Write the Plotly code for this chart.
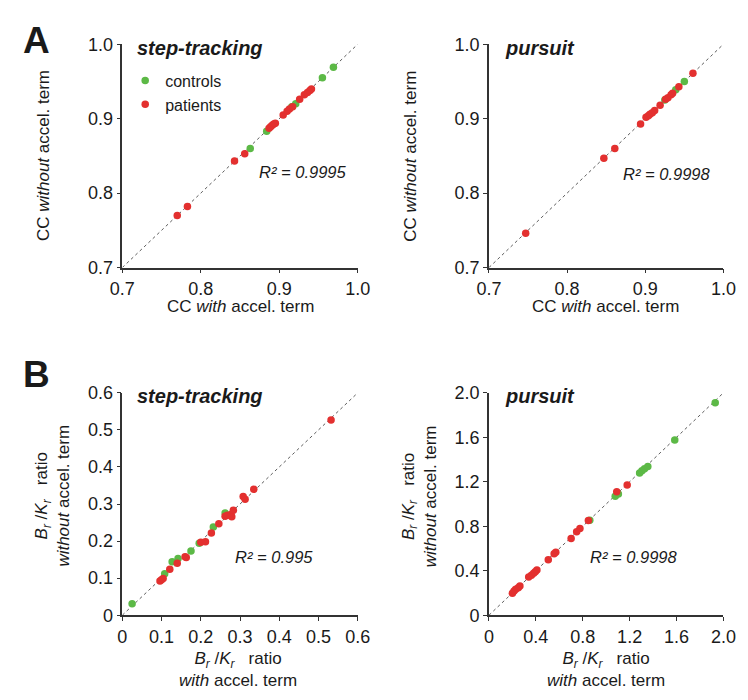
import plotly.graph_objects as go

# Panel A, step-tracking: CC with / without accel. term
a_step_ctrl_x = [0.969, 0.955, 0.921, 0.916, 0.884, 0.863]
a_step_ctrl_y = [0.969, 0.955, 0.920, 0.916, 0.883, 0.860]
a_step_pat_x = [0.770, 0.783, 0.843, 0.856, 0.887, 0.889, 0.891, 0.893, 0.895, 0.905,
                0.910, 0.913, 0.917, 0.926, 0.932, 0.936, 0.939, 0.941]
a_step_pat_y = [0.770, 0.782, 0.843, 0.853, 0.887, 0.889, 0.891, 0.893, 0.894, 0.905,
                0.910, 0.913, 0.916, 0.926, 0.932, 0.935, 0.938, 0.940]

# Panel A, pursuit
a_purs_ctrl_x = [0.950, 0.939, 0.925]
a_purs_ctrl_y = [0.950, 0.939, 0.925]
a_purs_pat_x = [0.747, 0.847, 0.861, 0.894, 0.901, 0.904, 0.906, 0.909, 0.912, 0.919,
                0.926, 0.929, 0.933, 0.935, 0.943, 0.961]
a_purs_pat_y = [0.746, 0.847, 0.860, 0.893, 0.902, 0.904, 0.906, 0.908, 0.911, 0.918,
                0.926, 0.928, 0.932, 0.934, 0.943, 0.961]

# Panel B, step-tracking: Br/Kr ratio
b_step_ctrl_x = [0.025, 0.108, 0.127, 0.142, 0.175, 0.196, 0.232, 0.262]
b_step_ctrl_y = [0.031, 0.112, 0.144, 0.153, 0.173, 0.194, 0.238, 0.276]
b_step_pat_x = [0.096, 0.100, 0.104, 0.121, 0.140, 0.160, 0.163, 0.200, 0.212, 0.227,
                0.246, 0.262, 0.268, 0.277, 0.279, 0.283, 0.308, 0.313, 0.335, 0.532]
b_step_pat_y = [0.092, 0.096, 0.099, 0.124, 0.140, 0.158, 0.156, 0.197, 0.198, 0.222,
                0.247, 0.267, 0.270, 0.272, 0.266, 0.283, 0.320, 0.313, 0.340, 0.527]

# Panel B, pursuit
b_purs_ctrl_x = [1.930, 1.585, 1.285, 1.305, 1.327, 1.355, 1.077, 1.104, 0.860]
b_purs_ctrl_y = [1.910, 1.576, 1.279, 1.299, 1.317, 1.337, 1.070, 1.090, 0.855]
b_purs_pat_x = [1.179, 1.090, 0.848, 0.776, 0.748, 0.701, 0.570, 0.556, 0.506, 0.409,
                0.395, 0.381, 0.362, 0.339, 0.264, 0.250, 0.228, 0.214, 0.200]
b_purs_pat_y = [1.172, 1.110, 0.852, 0.779, 0.750, 0.689, 0.567, 0.552, 0.500, 0.407,
                0.392, 0.378, 0.360, 0.343, 0.262, 0.247, 0.233, 0.218, 0.198]

cc_ticks = [0.7, 0.8, 0.9, 1.0]
cc_ticktext = ["0.7", "0.8", "0.9", "1.0"]
step_ticks = [0, 0.1, 0.2, 0.3, 0.4, 0.5, 0.6]
step_ticktext = ["0", "0.1", "0.2", "0.3", "0.4", "0.5", "0.6"]
purs_ticks = [0, 0.4, 0.8, 1.2, 1.6, 2.0]
purs_ticktext = ["0", "0.4", "0.8", "1.2", "1.6", "2.0"]

r2_labels = ["R² = 0.9995", "R² = 0.9998", "R² = 0.995", "R² = 0.9998"]

GREEN = "#5cb946"
RED = "#e3302f"
FONT = "Arial, Liberation Sans, sans-serif"

# page body has an 8px margin, so the figure is drawn 8px in from the window corner
OFF = 8
W, H = 748 - OFF, 700 - OFF


def px(x, y):
    # window pixel -> paper fraction
    return (x - OFF) / W, 1 - (y - OFF) / H


fig = go.Figure()

panels = [
    ("x", "y", a_step_ctrl_x, a_step_ctrl_y, a_step_pat_x, a_step_pat_y, [0.7, 1.0]),
    ("x2", "y2", a_purs_ctrl_x, a_purs_ctrl_y, a_purs_pat_x, a_purs_pat_y, [0.7, 1.0]),
    ("x3", "y3", b_step_ctrl_x, b_step_ctrl_y, b_step_pat_x, b_step_pat_y, [0, 0.6]),
    ("x4", "y4", b_purs_ctrl_x, b_purs_ctrl_y, b_purs_pat_x, b_purs_pat_y, [0, 2.0]),
]

for i, (xa, ya, cx, cy, px_, py_, rng) in enumerate(panels):
    # identity line
    fig.add_trace(go.Scatter(
        x=rng, y=rng, xaxis=xa, yaxis=ya, mode="lines", showlegend=False,
        line=dict(color="#333333", width=0.8, dash="3px,3px"), hoverinfo="skip",
    ))
    fig.add_trace(go.Scatter(
        x=cx, y=cy, xaxis=xa, yaxis=ya, mode="markers", name="controls",
        marker=dict(color=GREEN, size=7.5), showlegend=(i == 0), cliponaxis=False,
    ))
    fig.add_trace(go.Scatter(
        x=px_, y=py_, xaxis=xa, yaxis=ya, mode="markers", name="patients",
        marker=dict(color=RED, size=7.5), showlegend=(i == 0), cliponaxis=False,
    ))

axis_common = dict(
    showgrid=False, zeroline=False, showline=True, linecolor="#333333", linewidth=1.5,
    ticks="outside", ticklen=4, tickwidth=1.2, tickcolor="#333333",
    tickfont=dict(family=FONT, size=18, color="#1a1a1a"),
)

x_left = [px(113, 0)[0], px(357, 0)[0]]
x_right = [px(493, 0)[0], px(736, 0)[0]]
y_top = [px(0, 265)[1], px(0, 35)[1]]
y_bot = [px(0, 623)[1], px(0, 394)[1]]

fig.update_layout(
    xaxis=dict(domain=x_left, range=[0.7, 1.0], tickvals=cc_ticks, ticktext=cc_ticktext, anchor="y", **axis_common),
    yaxis=dict(domain=y_top, range=[0.7, 1.0], tickvals=cc_ticks, ticktext=cc_ticktext, anchor="x", **axis_common),
    xaxis2=dict(domain=x_right, range=[0.7, 1.0], tickvals=cc_ticks, ticktext=cc_ticktext, anchor="y2", **axis_common),
    yaxis2=dict(domain=y_top, range=[0.7, 1.0], tickvals=cc_ticks, ticktext=cc_ticktext, anchor="x2", **axis_common),
    xaxis3=dict(domain=x_left, range=[0, 0.6], tickvals=step_ticks, ticktext=step_ticktext, anchor="y3", **axis_common),
    yaxis3=dict(domain=y_bot, range=[0, 0.6], tickvals=step_ticks, ticktext=step_ticktext, anchor="x3", **axis_common),
    xaxis4=dict(domain=x_right, range=[0, 2.0], tickvals=purs_ticks, ticktext=purs_ticktext, anchor="y4", **axis_common),
    yaxis4=dict(domain=y_bot, range=[0, 2.0], tickvals=purs_ticks, ticktext=purs_ticktext, anchor="x4", **axis_common),
)

ann = []


def add_text(x, y, text, size=17, xanchor="center", yanchor="middle", angle=0, bold=False, italic=False):
    ax, ay = px(x, y)
    if italic:
        text = f"<i>{text}</i>"
    if bold:
        text = f"<b>{text}</b>"
    ann.append(dict(
        x=ax, y=ay, xref="paper", yref="paper", text=text, showarrow=False,
        xanchor=xanchor, yanchor=yanchor, textangle=angle,
        font=dict(family=FONT, size=size, color="#1a1a1a"),
    ))


# panel letters (kept inside the drawable page area)
add_text(OFF, OFF, "A", size=37, xanchor="left", yanchor="top", bold=True)
add_text(OFF, 352, "B", size=37, xanchor="left", yanchor="top", bold=True)

# panel titles
add_text(126, 39, "step-tracking", size=20, xanchor="left", bold=True, italic=True)
add_text(508, 39, "pursuit", size=20, xanchor="left", bold=True, italic=True)
add_text(126, 397, "step-tracking", size=20, xanchor="left", bold=True, italic=True)
add_text(508, 397, "pursuit", size=20, xanchor="left", bold=True, italic=True)

# R² labels
for (x, y), lab in zip([(300, 167), (678, 169), (270, 563), (643, 563)], r2_labels):
    add_text(x, y, lab, size=16.5, italic=True)

# axis titles
cc_y = "CC <i>without</i> accel. term"
cc_x = "CC <i>with</i> accel. term"
br_y = "<i>B<sub>r</sub></i> /<i>K<sub>r</sub></i>   ratio<br><i>without</i> accel. term"
br_x = "<i>B<sub>r</sub></i> /<i>K<sub>r</sub></i>   ratio<br><i>with</i> accel. term"

add_text(32, 150, cc_y, angle=-90)
add_text(412, 150, cc_y, angle=-90)
add_text(235, 305, cc_x)
add_text(614, 305, cc_x)
add_text(41, 500, br_y, angle=-90)
add_text(421, 500, br_y, angle=-90)
add_text(233, 679, br_x)
add_text(614, 679, br_x)

lx, ly = px(116, 55)
fig.update_layout(
    annotations=ann,
    width=W, height=H,
    margin=dict(l=0, r=0, t=0, b=0),
    paper_bgcolor="white", plot_bgcolor="white",
    showlegend=True,
    legend=dict(
        x=lx, y=ly, xanchor="left", yanchor="top",
        bgcolor="rgba(0,0,0,0)", itemwidth=30, tracegroupgap=0,
        font=dict(family=FONT, size=16, color="#1a1a1a"),
    ),
)

fig.write_html("out.html")
